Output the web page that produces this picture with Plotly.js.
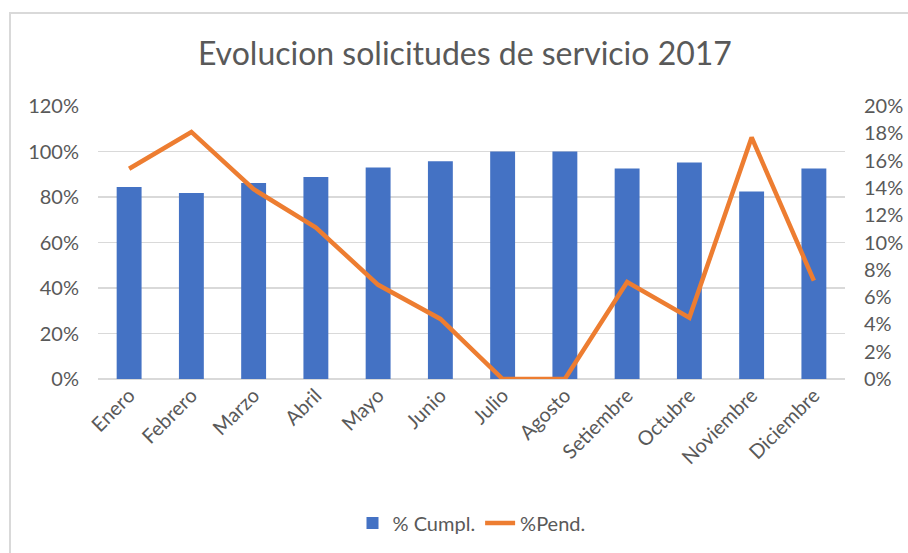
<!DOCTYPE html>
<html>
<head>
<meta charset="utf-8">
<script src="https://cdn.plot.ly/plotly-3.0.1.min.js"></script>
<style>
  html, body { margin: 0; padding: 0; background: #fff; }
  #wrap { position: relative; width: 908px; height: 553px; overflow: hidden; }
  #chart { width: 908px; height: 553px; }
  #frame { position: absolute; left: 9px; top: 12px; width: 1000px; height: 1000px;
           border-left: 2px solid #d9d9d9; border-top: 2px solid #d9d9d9; pointer-events: none; }
</style>
</head>
<body>
<div id="wrap">
  <div id="chart"></div>
  <div id="frame"></div>
</div>
<script>
const months = ["Enero","Febrero","Marzo","Abril","Mayo","Junio","Julio","Agosto","Setiembre","Octubre","Noviembre","Diciembre"];
const cumpl = [0.844, 0.818, 0.862, 0.888, 0.930, 0.957, 1.000, 1.000, 0.925, 0.952, 0.824, 0.925];
const pend  = [0.154, 0.181, 0.139, 0.111, 0.069, 0.044, 0.000, 0.000, 0.071, 0.045, 0.177, 0.072];
const seriesNames = ["% Cumpl.", "%Pend."];
const titleText = "Evolucion solicitudes de servicio 2017";

const fontFam = "Lato, 'Open Sans', sans-serif";
const grey = "#595959";

const traces = [
  {
    type: "bar", x: months, y: cumpl, name: seriesNames[0],
    marker: { color: "#4472C4" }, yaxis: "y", hoverinfo: "x+y"
  },
  {
    type: "scatter", mode: "lines", x: months, y: pend, name: seriesNames[1],
    line: { color: "#ED7D31", width: 4.5 }, yaxis: "y2", hoverinfo: "x+y"
  }
];

const layout = {
  width: 908, height: 553,
  paper_bgcolor: "#ffffff", plot_bgcolor: "#ffffff",
  margin: { l: 98, r: 63, t: 106, b: 174 },
  font: { family: fontFam, color: grey, size: 20 },
  title: {
    text: titleText, font: { family: fontFam, size: 32, color: grey },
    x: 0.512, xanchor: "center", xref: "container",
    y: 1 - 54/553, yanchor: "middle", yref: "container"
  },
  bargap: 0.6,
  showlegend: true,
  legend: {
    orientation: "h", x: 0.5, xanchor: "center", xref: "paper",
    y: 1 - 523/553, yanchor: "middle", yref: "container",
    font: { family: fontFam, size: 20, color: grey },
    traceorder: "normal", itemwidth: 30
  },
  xaxis: {
    type: "category", tickangle: -45, showgrid: false, zeroline: false,
    showline: false, ticks: "", tickfont: { family: fontFam, size: 20, color: grey }
  },
  yaxis: {
    range: [0, 1.2], dtick: 0.2, tickformat: ".0%",
    showgrid: true, gridcolor: "#d9d9d9", gridwidth: 1.5,
    zeroline: true, zerolinecolor: "#d9d9d9", zerolinewidth: 1.5,
    showline: false, ticks: "", ticklabelstandoff: 18,
    tickfont: { family: fontFam, size: 20, color: grey }
  },
  yaxis2: {
    range: [0, 0.2], dtick: 0.02, tickformat: ".0%",
    overlaying: "y", side: "right", showgrid: false, zeroline: false,
    showline: false, ticks: "", ticklabelstandoff: 18,
    tickfont: { family: fontFam, size: 20, color: grey }
  }
};

Plotly.newPlot("chart", traces, layout, { displayModeBar: false, staticPlot: true });
</script>
</body>
</html>
